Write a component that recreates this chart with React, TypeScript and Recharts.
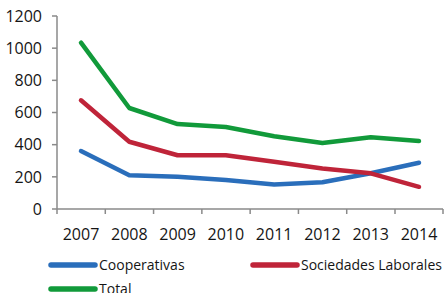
import React from 'react';
import { LineChart, Line, XAxis, YAxis, Legend } from 'recharts';

const years = ['2007', '2008', '2009', '2010', '2011', '2012', '2013', '2014'];
const cooperativas = [360, 210, 200, 180, 153, 166, 222, 288];
const sociedadesLaborales = [676, 418, 334, 334, 294, 252, 222, 138];
const total = [1034, 628, 528, 510, 452, 410, 446, 423];
const yTicks = [0, 200, 400, 600, 800, 1000, 1200];

const seriesNames = ['Cooperativas', 'Sociedades Laborales', 'Total'];
const seriesColors = ['#2a6ebb', '#bf2439', '#119a3a'];

const data = years.map((y, i) => ({
  year: y,
  Cooperativas: cooperativas[i],
  'Sociedades Laborales': sociedadesLaborales[i],
  Total: total[i],
}));

const FONT = '"Open Sans", "Liberation Sans", sans-serif';
const AXIS_COLOR = '#8a8a8a';
const TEXT_COLOR = '#151515';
const HALF = 24;

const XTick = (props: any) => {
  const { x, y, payload, index } = props;
  const n = years.length;
  const axisY = y - 7;
  const left = x - HALF;
  const right = x + HALF;
  return (
    <g>
      <line x1={left} y1={axisY} x2={left} y2={axisY + 5} stroke={AXIS_COLOR} strokeWidth={1.5} />
      {index === n - 1 && (
        <line x1={right} y1={axisY} x2={right} y2={axisY + 5} stroke={AXIS_COLOR} strokeWidth={1.5} />
      )}
      <text x={x} y={axisY + 31} textAnchor="middle" fontFamily={FONT} fontSize={16} fill={TEXT_COLOR}>
        {payload.value}
      </text>
    </g>
  );
};

const LegendContent = () => {
  const item = (i: number) => (
    <div style={{ display: 'flex', alignItems: 'center', height: 24 }}>
      <svg width={51} height={10} style={{ display: 'block' }}>
        <line x1={3} y1={5} x2={47} y2={5} stroke={seriesColors[i]} strokeWidth={5.5} strokeLinecap="round" />
      </svg>
      <span style={{ fontFamily: FONT, fontSize: 14, color: TEXT_COLOR, lineHeight: '24px', whiteSpace: 'nowrap' }}>
        {seriesNames[i]}
      </span>
    </div>
  );
  return (
    <div style={{ display: 'grid', gridTemplateColumns: '202px 200px', paddingLeft: 48 }}>
      {item(0)}
      {item(1)}
      {item(2)}
    </div>
  );
};

export default function App() {
  return (
    <div style={{ position: 'absolute', left: 0, top: 0 }}>
      <LineChart width={445} height={293} data={data} margin={{ top: 16, right: 2, left: 0, bottom: 0 }}>
        <XAxis
          dataKey="year"
          height={84}
          padding={{ left: HALF, right: HALF }}
          axisLine={{ stroke: AXIS_COLOR, strokeWidth: 1.5 }}
          tickLine={false}
          tickSize={5}
          tickMargin={2}
          tick={<XTick />}
          interval={0}
        />
        <YAxis
          width={57}
          domain={[0, 1200]}
          ticks={yTicks}
          interval={0}
          axisLine={{ stroke: AXIS_COLOR, strokeWidth: 1.5 }}
          tickLine={{ stroke: AXIS_COLOR, strokeWidth: 1.5 }}
          tickSize={5}
          tickMargin={10}
          tick={{ fontFamily: FONT, fontSize: 16, fill: TEXT_COLOR }}
        />
        <Legend
          layout="horizontal"
          verticalAlign="middle"
          align="center"
          wrapperStyle={{ top: 253, left: 0, width: 445 }}
          content={<LegendContent />}
        />
        {seriesNames.map((name, i) => (
          <Line
            key={name}
            type="linear"
            dataKey={name}
            stroke={seriesColors[i]}
            strokeWidth={4.5}
            strokeLinejoin="round"
            strokeLinecap="round"
            dot={false}
            activeDot={false}
            isAnimationActive={false}
          />
        ))}
      </LineChart>
    </div>
  );
}
